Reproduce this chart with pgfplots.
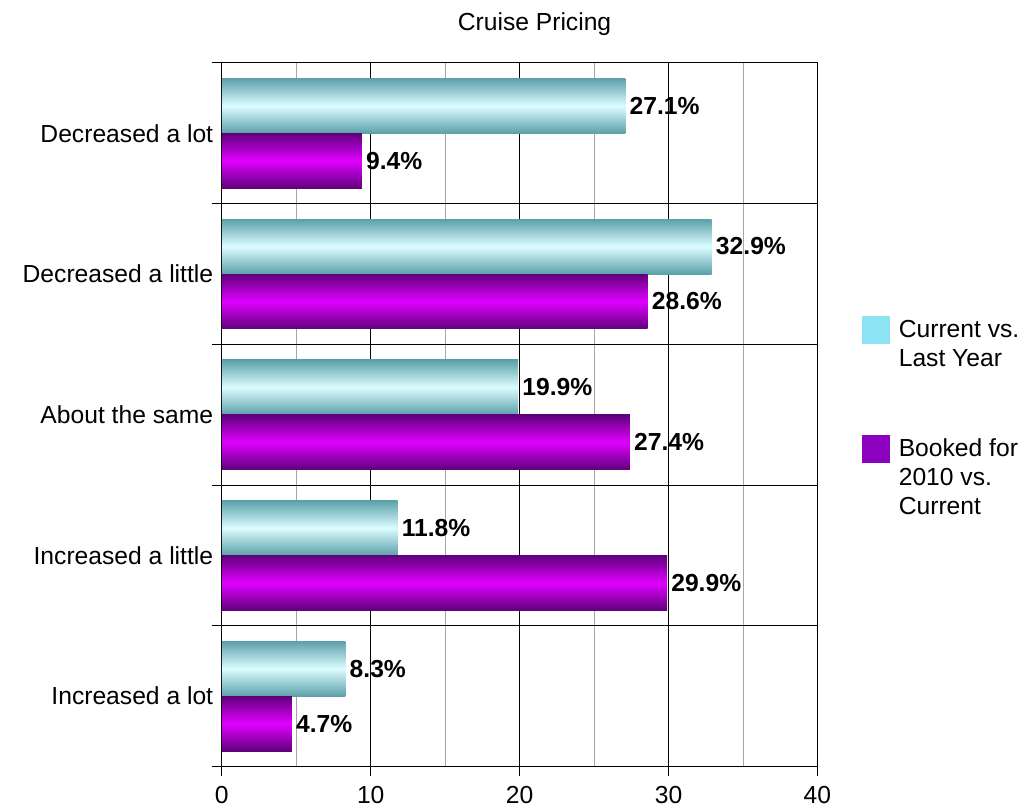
\documentclass[border=0pt]{standalone}
\usepackage{fontspec}
\setmainfont{Liberation Sans}
\usepackage{pgfplots}
\pgfplotsset{compat=1.18}
\definecolor{cyandark}{RGB}{92,160,170}
\definecolor{cyanlight}{RGB}{220,253,255}
\definecolor{purpdark}{RGB}{96,0,124}
\definecolor{purplight}{RGB}{224,0,255}
\definecolor{legcyan}{RGB}{141,228,245}
\definecolor{legpurp}{RGB}{140,0,192}
\pgfplotsset{
  cyanbar/.style={forget plot, draw=none, top color=cyandark, bottom color=cyandark, middle color=cyanlight, bar shift=20.625pt},
  purpbar/.style={forget plot, draw=none, top color=purpdark, bottom color=purpdark, middle color=purplight, bar shift=-20.625pt},
}
\begin{document}
\begin{tikzpicture}[font=\fontsize{18.5}{21.75}\selectfont]
\begin{axis}[
  scale only axis, width=447pt, height=528pt,
  xmin=0, xmax=40, ymin=-0.5, ymax=4.5,
  xbar, bar width=41.25pt,
  tick pos=left,
  xtick={0,10,20,30,40},
  minor xtick={5,15,25,35},
  ytick={-0.5,0.5,1.5,2.5,3.5,4.5}, yticklabels={},
  extra y ticks={0,1,2,3,4},
  extra y tick labels={Increased a lot, Increased a little, About the same, Decreased a little, Decreased a lot},
  extra y tick style={major tick length=0pt, grid=none, tick style={draw=none}},
  yticklabel style={xshift=-3pt},
  xticklabel style={yshift=-3.5pt},
  xmajorgrids, xminorgrids, ymajorgrids,
  major grid style={black, line width=0.8pt},
  minor grid style={black!35, line width=0.6pt},
  tick align=outside, major tick length=7.5pt, minor tick length=0pt,
  tick style={black, line width=0.8pt},
  axis line style={line width=0.8pt},
  /pgf/number format/assume math mode=true,
  title={Cruise Pricing},
  title style={at={(0.525,1)}, anchor=center, yshift=23pt},
  point meta=x,
  nodes near coords={\pgfmathprintnumber[fixed,fixed zerofill,precision=1]{\pgfplotspointmeta}\%},
  every node near coord/.append style={font=\fontsize{18.5}{21.75}\selectfont\bfseries, anchor=west, inner sep=3pt, text=black},
  legend style={draw=none, fill=none, at={(1.067,0.645)}, anchor=north west,
    cells={anchor=west, align=left}, row sep=48pt, column sep=5pt},
]
\addlegendimage{area legend, legend image code/.code={\fill[legcyan] (0pt,0.6pt) rectangle (20.5pt,21.1pt);}}
\addlegendentry{Current vs.\\Last Year}
\addlegendimage{area legend, legend image code/.code={\fill[legpurp] (0pt,11.5pt) rectangle (20.5pt,32pt);}}
\addlegendentry{Booked for\\2010 vs.\\Current}
% Current vs. Last Year
\addplot[cyanbar] coordinates {(27.1,4)};
\addplot[cyanbar] coordinates {(32.9,3)};
\addplot[cyanbar] coordinates {(19.9,2)};
\addplot[cyanbar] coordinates {(11.8,1)};
\addplot[cyanbar] coordinates {(8.3,0)};
% Booked for 2010 vs. Current
\addplot[purpbar] coordinates {(9.4,4)};
\addplot[purpbar] coordinates {(28.6,3)};
\addplot[purpbar] coordinates {(27.4,2)};
\addplot[purpbar] coordinates {(29.9,1)};
\addplot[purpbar] coordinates {(4.7,0)};
\end{axis}
\path (-166.5pt,-31.5pt) rectangle (603pt,575.25pt);
\end{tikzpicture}
\end{document}
